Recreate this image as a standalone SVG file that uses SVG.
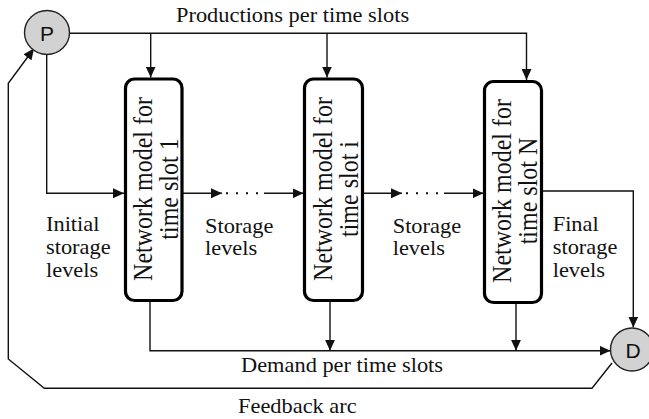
<svg xmlns="http://www.w3.org/2000/svg" width="649" height="419" viewBox="0 0 649 419">
  <style>
    .conn { fill: none; stroke: #111; stroke-width: 1.4; }
    .dots { fill: none; stroke: #111; stroke-width: 2; stroke-dasharray: 2 8; }
    .box { fill: #fff; stroke: #000; stroke-width: 3.2; }
    .node { fill: #d2d2d2; stroke: #222; stroke-width: 1.4; }
    .lbl { font-family: "Liberation Serif", "Times New Roman", serif; font-size: 20px; fill: #111; }
    .boxtxt { font-family: "Liberation Serif", "Times New Roman", serif; font-size: 24px; fill: #111; text-anchor: middle; }
    .letter { font-family: "Liberation Sans", Arial, sans-serif; font-size: 21px; fill: #111; text-anchor: middle; }
  </style>
  <defs>
    <marker id="arrow" markerUnits="userSpaceOnUse" markerWidth="11" markerHeight="10" refX="11" refY="5" orient="auto">
      <path d="M0,0 L11,5 L0,10 z" fill="#111"/>
    </marker>
  </defs>

  <!-- connectors -->
  <g id="connectors">
    <!-- productions bus from P -->
    <path class="conn" d="M69,33.3 H526.5 V80" marker-end="url(#arrow)"/>
    <path class="conn" d="M150.7,33.3 V77.5" marker-end="url(#arrow)"/>
    <path class="conn" d="M327,33.3 V77.5" marker-end="url(#arrow)"/>
    <!-- initial storage levels -->
    <path class="conn" d="M46.7,55 V193.3 H124" marker-end="url(#arrow)"/>
    <!-- storage levels between slots -->
    <path class="conn" d="M183,193.3 H222" marker-end="url(#arrow)"/>
    <path class="dots" d="M226,193.3 H262"/>
    <path class="conn" d="M264,193.3 H303.5" marker-end="url(#arrow)"/>
    <path class="conn" d="M363,193.3 H402" marker-end="url(#arrow)"/>
    <path class="dots" d="M406,193.3 H442"/>
    <path class="conn" d="M444,193.3 H483.5" marker-end="url(#arrow)"/>
    <!-- final storage levels -->
    <path class="conn" d="M543,191 H633.3 V327.5" marker-end="url(#arrow)"/>
    <!-- demand bus -->
    <path class="conn" d="M150,302 V350.7 H610.5" marker-end="url(#arrow)"/>
    <path class="conn" d="M330,302 V350.7" marker-end="url(#arrow)"/>
    <path class="conn" d="M516,304 V350.7" marker-end="url(#arrow)"/>
    <!-- feedback arc -->
    <path class="conn" d="M612,363 L592,388.3 H44.3 L8.3,359 V83.3 L34,48.5" marker-end="url(#arrow)"/>
  </g>

  <!-- source node -->
  <g id="node-P">
    <ellipse class="node" cx="47" cy="32.5" rx="22.5" ry="22"/>
    <text class="letter" x="47" y="40.5">P</text>
  </g>

  <!-- sink node -->
  <g id="node-D">
    <ellipse class="node" cx="632" cy="349.5" rx="21.5" ry="21.5"/>
    <text class="letter" x="633" y="357.5">D</text>
  </g>

  <!-- slot models -->
  <g id="slot-1">
    <rect class="box" x="125.5" y="79" width="56.5" height="221.5" rx="9"/>
    <text class="boxtxt" transform="matrix(0 -1 1.12 0 152 189)">Network model for</text>
    <text class="boxtxt" transform="matrix(0 -1 1.12 0 177.5 189)">time slot 1</text>
  </g>
  <g id="slot-i">
    <rect class="box" x="304.5" y="79" width="58" height="221.5" rx="9"/>
    <text class="boxtxt" transform="matrix(0 -1 1.12 0 331.5 189)">Network model for</text>
    <text class="boxtxt" transform="matrix(0 -1 1.12 0 357.5 189)">time slot i</text>
  </g>
  <g id="slot-N">
    <rect class="box" x="484.5" y="81.5" width="57" height="221" rx="9"/>
    <text class="boxtxt" transform="matrix(0 -1 1.12 0 510.5 191)">Network model for</text>
    <text class="boxtxt" transform="matrix(0 -1 1.12 0 536.5 191)">time slot N</text>
  </g>

  <!-- labels -->
  <g id="labels">
    <text class="lbl" transform="matrix(1.12 0 0 1 176 22)">Productions per time slots</text>
    <text class="lbl" transform="matrix(1.12 0 0 1 46 231)">Initial</text>
    <text class="lbl" transform="matrix(1.12 0 0 1 46 254)">storage</text>
    <text class="lbl" transform="matrix(1.12 0 0 1 46 277)">levels</text>
    <text class="lbl" transform="matrix(1.12 0 0 1 205 232.5)">Storage</text>
    <text class="lbl" transform="matrix(1.12 0 0 1 205 255)">levels</text>
    <text class="lbl" transform="matrix(1.12 0 0 1 392.7 232.5)">Storage</text>
    <text class="lbl" transform="matrix(1.12 0 0 1 392.7 255)">levels</text>
    <text class="lbl" transform="matrix(1.12 0 0 1 552.7 231)">Final</text>
    <text class="lbl" transform="matrix(1.12 0 0 1 552.7 254)">storage</text>
    <text class="lbl" transform="matrix(1.12 0 0 1 552.7 277)">levels</text>
    <text class="lbl" transform="matrix(1.12 0 0 1 241 371.5)">Demand per time slots</text>
    <text class="lbl" transform="matrix(1.12 0 0 1 238 413)">Feedback arc</text>
  </g>
</svg>
